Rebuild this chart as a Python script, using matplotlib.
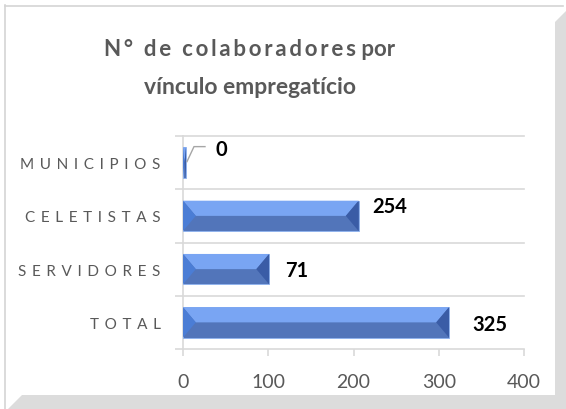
import matplotlib
matplotlib.use("Agg")
import matplotlib.pyplot as plt
from matplotlib.patches import Polygon
import numpy as np

plt.rcParams["font.family"] = ["Lato", "DejaVu Sans"]

# data (bottom to top, as drawn)
categories = ["TOTAL", "SERVIDORES", "CELETISTAS", "MUNICIPIOS"]
bar_lengths = [312, 101, 206, 3.5]
value_labels = ["325", "71", "254", "0"]
x_ticks = [0, 100, 200, 300, 400]

TITLE_1 = "N° de colaboradores"
TITLE_1_END = "por"
TITLE_2 = "vínculo empregatício"

GRAY_TEXT = "#595959"
GRID = "#d9d9d9"
TOP_C = "#79a5f3"
BOT_C = "#5275ba"
LEFT_C = "#4b7dd5"
RIGHT_C = "#3a5ca6"


def spaced(s, sep="\u2009"):
    return sep.join(s)


fig = plt.figure(figsize=(5.66, 4.10), dpi=100)
W, H = 566, 410

# panel frame and shadow (figure pixel coords -> fractions)
def px(pts):
    return [(x / W, 1 - y / H) for x, y in pts]

shadow = Polygon(px([(555, 23), (566, 12), (566, 410), (8, 410), (22, 396), (555, 396)]),
                 closed=True, transform=fig.transFigure, facecolor="#dcdcdc",
                 edgecolor="none", zorder=0)
fig.patches.append(shadow)
fig.add_artist(plt.Line2D([5 / W, 5 / W], [1 - 6 / H, 0], transform=fig.transFigure,
                          color="#d4d4d4", lw=1.2))
fig.add_artist(plt.Line2D([5 / W, 563 / W], [1 - 6.5 / H, 1 - 6.5 / H],
                          transform=fig.transFigure, color="#d4d4d4", lw=1.2))

ax = fig.add_axes([183 / W, 1 - 350 / H, (524 - 183) / W, (350 - 137) / H])
ax.set_xlim(0, 400)
ax.set_ylim(-0.5, len(categories) - 0.5)
ax.patch.set_alpha(0)

y = np.arange(len(categories))
bh = 0.57
bev = 15  # bevel width in data units

for yi, v in zip(y, bar_lengths):
    b = min(bev, v / 2)
    top, mid, bot = yi + bh / 2, yi, yi - bh / 2
    ax.barh(yi, v, height=bh, color=BOT_C, edgecolor="#8db2f0", lw=0.6, zorder=3)
    ax.add_patch(Polygon([(0, top), (v, top), (v - b, mid), (b, mid)],
                         facecolor=TOP_C, edgecolor="none", zorder=4))
    ax.add_patch(Polygon([(0, top), (b, mid), (0, bot)],
                         facecolor=LEFT_C, edgecolor="none", zorder=4))
    ax.add_patch(Polygon([(v, top), (v - b, mid), (v, bot)],
                         facecolor=RIGHT_C, edgecolor="none", zorder=4))

# value labels
offsets = [(16.5, -1.5), (11.5, -0.5), (9.5, 7), (21.5, 10)]
for yi, v, lab, off in zip(y, bar_lengths, value_labels, offsets):
    ax.annotate(lab, (v, yi), xytext=off, textcoords="offset points",
                ha="left", va="center", fontsize=14.5, fontweight="bold", color="black")

# leader line for the zero bar
i0 = len(categories) - 1
p0 = ax.transData.transform((bar_lengths[i0], i0))
pts = np.array([p0 + [1, 1], p0 + [8, 16], p0 + [19, 16]])
ax.plot(pts[:, 0], pts[:, 1], color="#a6a6a6", lw=1, transform=None, zorder=5)

# gridlines at category boundaries
for yb in np.arange(-0.5, len(categories), 1.0):
    ax.axhline(yb, color=GRID, lw=1.2, zorder=1, clip_on=False)

for s in ["top", "right", "bottom"]:
    ax.spines[s].set_visible(False)
ax.spines["left"].set_color(GRID)
ax.spines["left"].set_linewidth(1.2)
ax.spines["left"].set_zorder(2)

ax.set_xticks(x_ticks)
ax.set_xticklabels([str(t) for t in x_ticks], fontsize=14, color=GRAY_TEXT)
ax.tick_params(axis="x", length=5, color=GRID, width=1.2, pad=12)

ax.set_yticks(y)
ax.set_yticklabels([spaced(c, "\u2009\u2009\u2009") for c in categories],
                   fontsize=11, color=GRAY_TEXT)
ax.tick_params(axis="y", which="major", length=0, pad=16)
ax.set_yticks(np.arange(-0.5, len(categories), 1.0), minor=True)
ax.tick_params(axis="y", which="minor", length=6, color=GRID, width=1.2)

fig.text(250 / W, 1 - 49 / H, spaced(TITLE_1) + " " + TITLE_1_END,
         ha="center", va="center", fontsize=16, fontweight="bold", color=GRAY_TEXT)
fig.text(250 / W, 1 - 88 / H, TITLE_2, ha="center", va="center",
         fontsize=16.5, fontweight="bold", color=GRAY_TEXT)

fig.savefig("out.png", dpi=100)
